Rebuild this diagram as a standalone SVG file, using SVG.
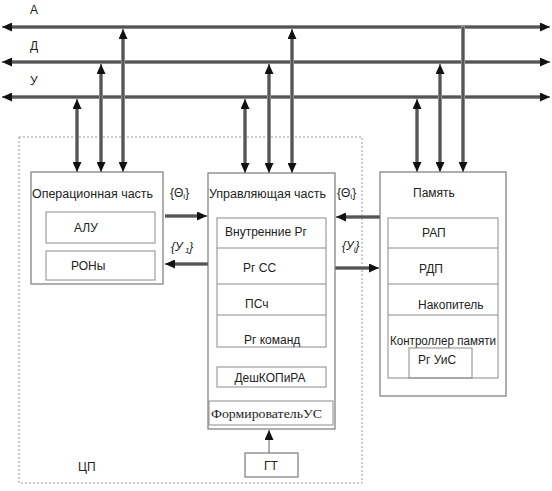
<svg xmlns="http://www.w3.org/2000/svg" width="552" height="491" viewBox="0 0 552 491">
<style>
.t{font-family:"Liberation Sans",Arial,sans-serif;font-size:12px;fill:#222}
.s{font-family:"Liberation Serif","Times New Roman",serif;font-size:12px;fill:#222}
.box{fill:#fff;stroke:#7a7a7a;stroke-width:1.2}
.in{fill:none;stroke:#8a8a8a;stroke-width:1}
.g{stroke:#8c8c8c;stroke-width:4;fill:none}
.d{stroke:#1e1e1e;stroke-width:1;fill:none}
.thin{stroke:#666;stroke-width:1;fill:none}
</style>
<defs>
<marker id="ah" markerUnits="userSpaceOnUse" markerWidth="10" markerHeight="9" refX="10" refY="4.5" orient="auto-start-reverse">
<path d="M0,0 L10,4.5 L0,9 z" fill="#111"/>
</marker>
<marker id="sm" markerUnits="userSpaceOnUse" markerWidth="5" markerHeight="4" refX="5" refY="2" orient="auto">
<path d="M0,0 L5,2 L0,4 z" fill="#555"/>
</marker>
</defs>
<rect width="552" height="491" fill="#fff"/>
<g id="cpu-frame">
<rect x="19" y="137" width="343" height="346" fill="none" stroke="#999" stroke-width="1" stroke-dasharray="2,2"/>
<text class="t" x="78" y="471">ЦП</text>
</g>
<g id="bus-labels">
<text class="t" x="30" y="14">А</text>
<text class="t" x="30" y="50">Д</text>
<text class="t" x="30" y="85">У</text>
</g>
<g id="connectors">
<line class="g" x1="9" y1="27" x2="543" y2="27"/>
<line class="d" x1="2" y1="27" x2="550" y2="27" marker-start="url(#ah)" marker-end="url(#ah)"/>
<line class="g" x1="9" y1="62" x2="543" y2="62"/>
<line class="d" x1="2" y1="62" x2="550" y2="62" marker-start="url(#ah)" marker-end="url(#ah)"/>
<line class="g" x1="9" y1="97" x2="543" y2="97"/>
<line class="d" x1="2" y1="97" x2="550" y2="97" marker-start="url(#ah)" marker-end="url(#ah)"/>
<line class="g" x1="77" y1="106" x2="77" y2="165"/>
<line class="d" x1="77" y1="99" x2="77" y2="172" marker-start="url(#ah)" marker-end="url(#ah)"/>
<line class="g" x1="101" y1="71" x2="101" y2="165"/>
<line class="d" x1="101" y1="64" x2="101" y2="172" marker-start="url(#ah)" marker-end="url(#ah)"/>
<line class="g" x1="123" y1="36" x2="123" y2="165"/>
<line class="d" x1="123" y1="29" x2="123" y2="172" marker-start="url(#ah)" marker-end="url(#ah)"/>
<line class="g" x1="245" y1="106" x2="245" y2="166"/>
<line class="d" x1="245" y1="99" x2="245" y2="173" marker-start="url(#ah)" marker-end="url(#ah)"/>
<line class="g" x1="269" y1="71" x2="269" y2="166"/>
<line class="d" x1="269" y1="64" x2="269" y2="173" marker-start="url(#ah)" marker-end="url(#ah)"/>
<line class="g" x1="292" y1="36" x2="292" y2="166"/>
<line class="d" x1="292" y1="29" x2="292" y2="173" marker-start="url(#ah)" marker-end="url(#ah)"/>
<line class="g" x1="417" y1="106" x2="417" y2="165"/>
<line class="d" x1="417" y1="99" x2="417" y2="172" marker-start="url(#ah)" marker-end="url(#ah)"/>
<line class="g" x1="440" y1="71" x2="440" y2="165"/>
<line class="d" x1="440" y1="64" x2="440" y2="172" marker-start="url(#ah)" marker-end="url(#ah)"/>
<line class="g" x1="463" y1="25" x2="463" y2="165"/>
<line class="d" x1="463" y1="27" x2="463" y2="172" marker-end="url(#ah)"/>
<line class="g" x1="165" y1="216" x2="200" y2="216"/>
<line class="d" x1="165" y1="216" x2="207" y2="216" marker-end="url(#ah)"/>
<line class="g" x1="208" y1="264" x2="172" y2="264"/>
<line class="d" x1="208" y1="264" x2="165" y2="264" marker-end="url(#ah)"/>
<line class="g" x1="380" y1="217" x2="343" y2="217"/>
<line class="d" x1="380" y1="217" x2="336" y2="217" marker-end="url(#ah)"/>
<line class="g" x1="335" y1="268" x2="372" y2="268"/>
<line class="d" x1="335" y1="268" x2="379" y2="268" marker-end="url(#ah)"/>
<line class="thin" x1="269" y1="347" x2="269" y2="367" marker-end="url(#sm)"/>
<line class="thin" x1="269" y1="387" x2="269" y2="401" marker-end="url(#sm)"/>
<line class="thin" x1="269" y1="453" x2="269" y2="430" marker-end="url(#ah)"/>
</g>
<g id="labels">
<text class="t" x="170" y="197">{Θ<tspan font-size="8" dy="2">i</tspan><tspan dy="-2">}</tspan></text>
<text class="t" x="171" y="251" font-style="italic">{У<tspan font-size="8" dy="2"> 1</tspan><tspan dy="-2">}</tspan></text>
<text class="t" x="337" y="197">{Θ<tspan font-size="8" dy="2">i</tspan><tspan dy="-2">}</tspan></text>
<text class="t" x="342" y="250" font-style="italic">{У<tspan font-size="8" dy="2">i</tspan><tspan dy="-2">}</tspan></text>
</g>
<g id="op-part">
<rect class="box" x="31" y="172" width="132" height="112"/>
<text class="t" x="32" y="198" textLength="121" lengthAdjust="spacingAndGlyphs">Операционная часть</text>
<rect class="in" x="46" y="212" width="109" height="31"/>
<text class="t" x="74" y="232">АЛУ</text>
<rect class="in" x="46" y="251" width="109" height="29"/>
<text class="t" x="71" y="270">РОНы</text>
</g>
<g id="control-part">
<rect class="box" x="208" y="173" width="127" height="256"/>
<text class="t" x="209" y="198" textLength="117" lengthAdjust="spacingAndGlyphs">Управляющая часть</text>
<rect class="in" x="217" y="218" width="109" height="129"/>
<line class="in" x1="217" y1="248" x2="326" y2="248"/>
<line class="in" x1="217" y1="284" x2="326" y2="284"/>
<line class="in" x1="217" y1="315" x2="326" y2="315"/>
<text class="t" x="225" y="236">Внутренние Рг</text>
<text class="t" x="243" y="272">Рг СС</text>
<text class="t" x="245" y="308">ПСч</text>
<text class="t" x="244" y="344">Рг команд</text>
</g>
<g id="decoder">
<rect class="in" x="217" y="367" width="109" height="20"/>
<text class="t" x="270" y="382" text-anchor="middle">ДешКОПиРА</text>
</g>
<g id="former">
<rect class="in" x="209" y="401" width="124" height="24"/>
<text class="s" x="211" y="418" textLength="111" lengthAdjust="spacingAndGlyphs">ФормировательУС</text>
</g>
<g id="gt">
<rect class="box" x="245" y="453" width="53" height="24"/>
<text class="t" x="271" y="470" text-anchor="middle">ГТ</text>
</g>
<g id="memory">
<rect class="box" x="380" y="172" width="126" height="224"/>
<text class="t" x="413" y="197">Память</text>
<rect class="in" x="388" y="218" width="110" height="160"/>
<line class="in" x1="388" y1="248" x2="498" y2="248"/>
<line class="in" x1="388" y1="284" x2="498" y2="284"/>
<line class="in" x1="388" y1="315" x2="498" y2="315"/>
<text class="t" x="422" y="237">РАП</text>
<text class="t" x="419" y="273">РДП</text>
<text class="t" x="418" y="309">Накопитель</text>
<text class="t" x="390" y="345" font-size="10.5" textLength="106" lengthAdjust="spacingAndGlyphs">Контроллер памяти</text>
<rect class="in" x="409" y="348" width="63" height="30"/>
<text class="t" x="418" y="364">Рг УиС</text>
</g>
</svg>
